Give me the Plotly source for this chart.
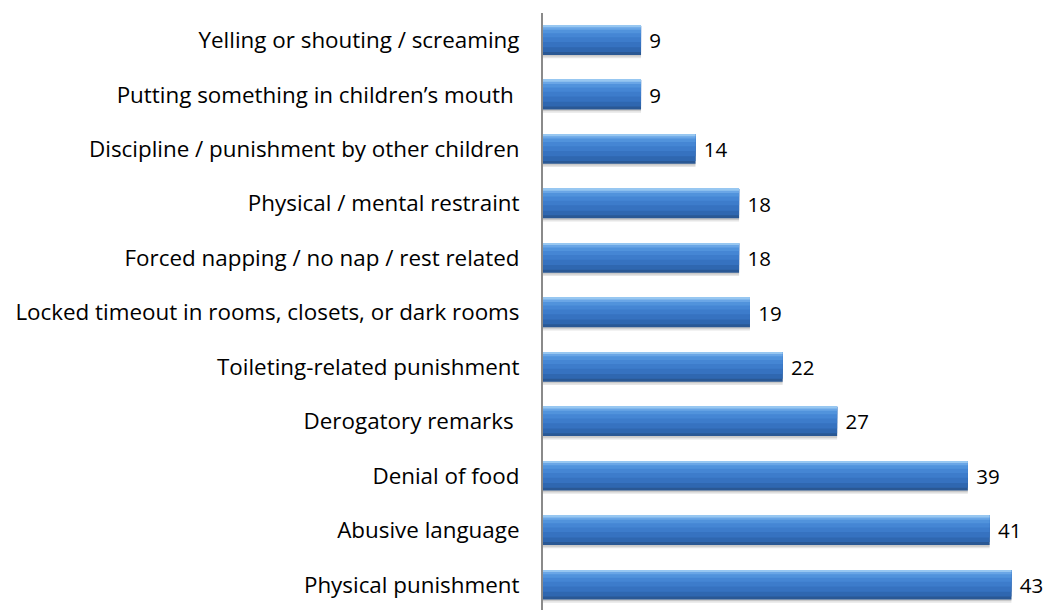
import plotly.graph_objects as go

categories = [
    "Yelling or shouting / screaming",
    "Putting something in children\u2019s mouth\u00a0",
    "Discipline / punishment by other children",
    "Physical / mental restraint",
    "Forced napping / no nap / rest related",
    "Locked timeout in rooms, closets, or dark rooms",
    "Toileting-related punishment",
    "Derogatory remarks\u00a0",
    "Denial of food",
    "Abusive language",
    "Physical punishment",
]
values = [9, 9, 14, 18, 18, 19, 22, 27, 39, 41, 43]

font_family = "'Open Sans', sans-serif"
FS = 22.4

BAR_W = 0.54
TOP = -BAR_W / 2
# (fraction of bar thickness from top, colour) - layered to imitate gradient
layers = [
    (1.00, "#2a5894"),
    (0.90, "#2f67b0"),
    (0.74, "#3672c0"),
    (0.56, "#3d7ccb"),
    (0.40, "#4586d4"),
    (0.26, "#5193dc"),
    (0.14, "#6aa6e6"),
    (0.06, "#97c7f1"),
]

fig = go.Figure()
# soft shadow below bars
fig.add_trace(go.Bar(y=categories, x=values, orientation="h", width=BAR_W, offset=TOP + 0.06,
                     marker=dict(color="rgba(0,0,0,0.10)", line=dict(width=0)),
                     hoverinfo="skip", showlegend=False))
fig.add_trace(go.Bar(y=categories, x=values, orientation="h", width=BAR_W, offset=TOP + 0.03,
                     marker=dict(color="rgba(0,0,0,0.12)", line=dict(width=0)),
                     hoverinfo="skip", showlegend=False))
for frac, col in layers:
    fig.add_trace(go.Bar(y=categories, x=values, orientation="h", width=BAR_W * frac, offset=TOP,
                         marker=dict(color=col, line=dict(width=0)),
                         hoverinfo="skip", showlegend=False))
# value labels
fig.add_trace(go.Bar(y=categories, x=values, orientation="h", width=BAR_W, offset=TOP,
                     marker=dict(color="rgba(0,0,0,0)", line=dict(width=0)),
                     text=[str(v) for v in values], texttemplate=" %{text}",
                     textposition="outside", cliponaxis=False, constraintext="none",
                     textfont=dict(family=font_family, size=20.5, color="#000000"),
                     hoverinfo="skip", showlegend=False))

fig.update_layout(
    width=1047, height=610,
    margin=dict(l=535, r=0, t=5, b=6),
    barmode="overlay",
    plot_bgcolor="white", paper_bgcolor="white",
    font=dict(family=font_family, size=FS, color="#000000"),
    xaxis=dict(range=[0, 47], visible=False),
    yaxis=dict(autorange="reversed", showline=True, linecolor="#8a8a8a", linewidth=2,
               ticks="", ticklabelstandoff=17, showgrid=False, zeroline=False,
               tickfont=dict(family=font_family, size=FS, color="#000000")),
)

fig.write_html("out.html")
